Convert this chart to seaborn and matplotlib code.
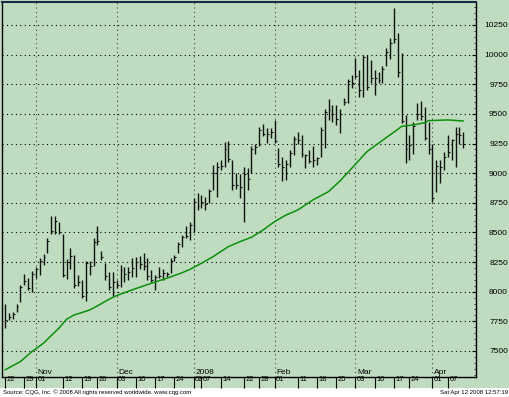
import numpy as np
import pandas as pd
import matplotlib
matplotlib.use("Agg")
import matplotlib.pyplot as plt
import matplotlib.transforms as mtransforms
from matplotlib.ticker import MultipleLocator
import seaborn as sns

# daily bars (index 0 = Oct 22 2007)
highs = [7900, 7820, 7830, 7900, 8060, 8145, 8115, 8175, 8210, 8280,
         8315, 8450, 8640, 8640, 8585, 8485, 8275, 8365, 8310, 8140,
         8100, 8255, 8255, 8450, 8550, 8340, 8240, 8170, 8165, 8100,
         8225, 8210, 8210, 8280, 8295, 8300, 8325, 8280, 8185, 8140,
         8210, 8195, 8170, 8280, 8310, 8420, 8480, 8555, 8590, 8790,
         8830, 8815, 8800, 8870, 9070, 9095, 9115, 9265, 9275, 9110,
         9000, 8995, 9055, 9040, 9230, 9250, 9390, 9415, 9380, 9380,
         9450, 9210, 9140, 9110, 9195, 9310, 9350, 9320, 9165, 9195,
         9225, 9140, 9390, 9545, 9625, 9575, 9575, 9545, 9630, 9795,
         9830, 9970, 9870, 10000, 10000, 9955, 9870, 9855, 9900, 10055,
         10140, 10395, 10180, 10010, 9490, 9320, 9435, 9590, 9605, 9555,
         9435, 9250, 9110, 9115, 9180, 9320, 9285, 9390, 9390, 9350]
lows = [7690, 7760, 7770, 7825, 7910, 8055, 8015, 8000, 8115, 8140,
        8225, 8325, 8485, 8485, 8485, 8120, 8105, 8190, 8030, 8050,
        7945, 7920, 8140, 8220, 8395, 8265, 8100, 8015, 7960, 8030,
        8040, 8085, 8100, 8125, 8125, 8195, 8185, 8100, 8085, 8015,
        8115, 8100, 8125, 8155, 8255, 8325, 8380, 8450, 8440, 8500,
        8690, 8705, 8690, 8745, 8860, 8800, 9025, 9055, 9095, 8860,
        8870, 8790, 8590, 8860, 9000, 9165, 9225, 9315, 9255, 9295,
        9255, 9055, 8930, 8940, 9055, 9155, 9250, 9140, 9040, 9085,
        9055, 9070, 9140, 9210, 9450, 9435, 9405, 9335, 9575, 9590,
        9715, 9800, 9645, 9645, 9700, 9760, 9660, 9760, 9760, 9900,
        9960, 10095, 9810, 9420, 9085, 9110, 9160, 9450, 9450, 9280,
        9165, 8760, 8845, 8915, 9025, 9140, 9110, 9055, 9250, 9210]
closes = [7760, 7790, 7810, 7880, 8040, 8090, 8030, 8150, 8190, 8260,
          8290, 8430, 8510, 8600, 8500, 8140, 8250, 8300, 8060, 8080,
          7960, 8240, 8220, 8420, 8430, 8290, 8130, 8040, 8080, 8060,
          8180, 8150, 8170, 8200, 8250, 8230, 8220, 8130, 8100, 8120,
          8130, 8160, 8150, 8260, 8290, 8400, 8460, 8470, 8560, 8760,
          8720, 8760, 8740, 8850, 9000, 9050, 9060, 9200, 9120, 8900,
          8900, 8880, 8990, 8950, 9200, 9220, 9360, 9330, 9330, 9350,
          9270, 9080, 9050, 9080, 9170, 9290, 9280, 9160, 9150, 9100,
          9110, 9130, 9360, 9520, 9530, 9500, 9460, 9500, 9600, 9780,
          9760, 9820, 9700, 9980, 9730, 9800, 9800, 9790, 9880, 10020,
          10100, 10130, 9850, 9440, 9200, 9240, 9400, 9500, 9480, 9300,
          9200, 8790, 9060, 9050, 9140, 9180, 9280, 9330, 9320, 9250]

# moving average line, read at a subset of bars
ma_idx = [0, 4, 7, 10, 12, 14, 15, 16, 18, 20, 22, 24, 27, 29, 33, 38, 42,
          46, 48, 51, 54, 58, 61, 64, 67, 70, 73, 76, 80, 84, 87, 90, 94,
          99, 102, 103, 106, 109, 110, 115, 119]
ma_val = [7340, 7410, 7495, 7565, 7630, 7692, 7730, 7768, 7804, 7824, 7846,
          7880, 7936, 7967, 8015, 8071, 8113, 8160, 8188, 8239, 8295, 8380,
          8422, 8459, 8520, 8591, 8647, 8689, 8775, 8844, 8935, 9040, 9182,
          9300, 9370, 9395, 9406, 9426, 9443, 9449, 9440]

tick_idx = [0, 5, 8, 15, 20, 24, 29, 34, 39, 44, 49, 51, 56, 62, 66, 70,
            76, 81, 86, 91, 96, 101, 105, 111, 115]
tick_lbls = ["22", "29", "01", "12", "19", "26", "03", "10", "17", "24",
             "02", "07", "14", "22", "28", "01", "11", "18", "25", "03",
             "10", "17", "24", "01", "07"]
month_idx = [8, 29, 49, 70, 91, 111]
month_lbls = ["Nov", "Dec", "2008", "Feb", "Mar", "Apr"]
y_ticks = [7500, 7750, 8000, 8250, 8500, 8750, 9000, 9250, 9500, 9750, 10000, 10250]

bg = "#c0dcc0"
sns.set_theme(style="ticks")
plt.rcParams["font.family"] = ["Liberation Sans", "DejaVu Sans"]
narrow = ["Liberation Sans Narrow", "Liberation Sans", "DejaVu Sans"]

fig = plt.figure(figsize=(5.10, 3.97), dpi=100, facecolor=bg)
ax = fig.add_axes([2 / 510, 20 / 397, 474 / 510, 375 / 397])
ax.set_facecolor(bg)

bars = pd.DataFrame({"high": highs, "low": lows, "close": closes})
bars["i"] = np.arange(len(bars))

# grid first so bars sit on top
for yv in y_ticks:
    ax.axhline(yv, color="black", lw=0.8, ls=(0, (1, 3)), zorder=1)
for m in month_idx:
    ax.axvline(m, color="#444444", lw=0.8, ls=(0, (1, 3)), zorder=1)

ax.vlines(bars["i"], bars["low"], bars["high"], color="#111111", lw=1.0, zorder=3)
ax.hlines(bars["close"], bars["i"], bars["i"] + 0.5, color="#111111", lw=0.8, zorder=3)

sns.lineplot(x=ma_idx, y=ma_val, color="#0b8f0b", lw=1.1, ax=ax, zorder=4)

ax.set_xlim(-0.78, 122.3)
ax.set_ylim(7280, 10444)
ax.set_xlabel("")
ax.set_ylabel("")

# x axis: day labels sitting beside the tick marks
ax.set_xticks(tick_idx)
ax.set_xticklabels(tick_lbls)
ax.tick_params(axis="x", direction="out", length=8, width=0.8, pad=-8.5,
               labelsize=5.5, colors="black")
shift = mtransforms.ScaledTranslation(1.5 / 100, 0, fig.dpi_scale_trans)
for lbl in ax.get_xticklabels():
    lbl.set_horizontalalignment("left")
    lbl.set_family(narrow)
    lbl.set_transform(lbl.get_transform() + shift)

trans = mtransforms.blended_transform_factory(ax.transData, ax.transAxes)
for m, lbl in zip(month_idx, month_lbls):
    ax.text(m + 0.4, 0.004, lbl, transform=trans, ha="left", va="bottom",
            fontsize=6, color="black")

# y axis on the right
ax.yaxis.tick_right()
ax.set_yticks(y_ticks)
ax.set_yticklabels([str(v) for v in y_ticks])
ax.yaxis.set_minor_locator(MultipleLocator(50))
ax.tick_params(axis="y", which="major", direction="in", length=3, width=0.8,
               pad=23, labelsize=6, colors="black")
ax.tick_params(axis="y", which="minor", direction="in", length=1.5, width=0.6)
for lbl in ax.get_yticklabels():
    lbl.set_horizontalalignment("right")

for side in ["top", "left", "bottom", "right"]:
    ax.spines[side].set_color("black")
    ax.spines[side].set_linewidth(1.0)
ax.spines["top"].set_color("#1a2a4a")
ax.spines["top"].set_linewidth(1.5)

# white footer strip
fig.add_artist(plt.Rectangle((0, 0), 1, 9 / 397, transform=fig.transFigure,
                             facecolor="white", edgecolor="none", zorder=0))
fig.text(3 / 510, 4.5 / 397, "Source: CQG, Inc. \u00a9 2008 All rights reserved worldwide. www.cqg.com",
         fontsize=4.3, ha="left", va="center", color="black")
fig.text(508 / 510, 4.5 / 397, "Sat Apr 12 2008 12:57:19",
         fontsize=4.3, ha="right", va="center", color="black")

fig.savefig("out.png", dpi=100, facecolor=bg)
